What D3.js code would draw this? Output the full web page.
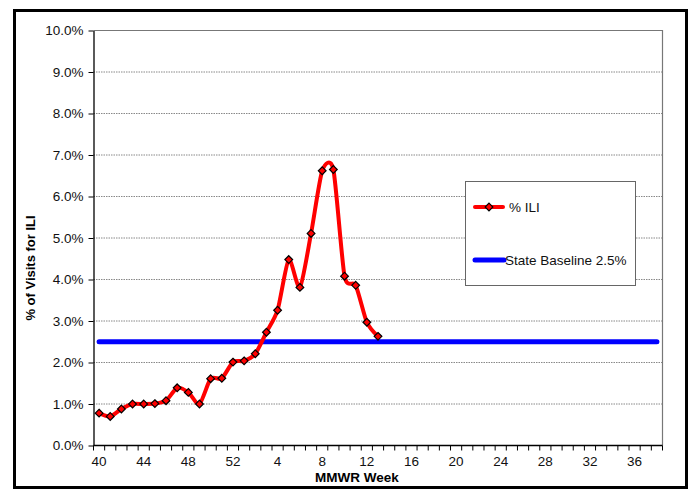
<!DOCTYPE html>
<html>
<head>
<meta charset="utf-8">
<script src="https://cdn.jsdelivr.net/npm/d3@7"></script>
<style>
  body { margin: 0; background: #fff; }
  svg { display: block; }
  text { font-family: "Liberation Sans", Arial, sans-serif; }
</style>
</head>
<body>
<svg width="699" height="496"></svg>
<script>
// MMWR weeks of the season, 40..52 then 1..38
const weeks = [40, 41, 42, 43, 44, 45, 46, 47, 48, 49, 50, 51, 52,
    1, 2, 3, 4, 5, 6, 7, 8, 9, 10, 11, 12, 13, 14, 15, 16, 17, 18, 19, 20,
    21, 22, 23, 24, 25, 26, 27, 28, 29, 30, 31, 32, 33, 34, 35, 36, 37, 38];
const labelWeeks = [40, 44, 48, 52, 4, 8, 12, 16, 20, 24, 28, 32, 36];

// % ILI, weeks 40 .. 13
const iliWeeks = [40, 41, 42, 43, 44, 45, 46, 47, 48, 49, 50, 51, 52,
    1, 2, 3, 4, 5, 6, 7, 8, 9, 10, 11, 12, 13];
const iliValues = [0.78, 0.70, 0.88, 1.00, 1.00, 1.01, 1.08, 1.39, 1.28, 1.00, 1.61, 1.62, 2.01,
    2.04, 2.21, 2.73, 3.26, 4.48, 3.81, 5.11, 6.62, 6.65, 4.08, 3.86, 2.97, 2.63];

const baseline = 2.5;
const yTicks = [0, 1, 2, 3, 4, 5, 6, 7, 8, 9, 10];

const svg = d3.select('svg');
const pLeft = 93.5, pRight = 662.5, pTop = 30.5, pBottom = 445.5;

// outer frame
svg.append('rect')
    .attr('x', 14.5).attr('y', 10.5)
    .attr('width', 672).attr('height', 477)
    .attr('fill', 'none').attr('stroke', '#000').attr('stroke-width', 3);

const x = d3.scaleBand().domain(weeks).range([pLeft, pRight]);
const y = d3.scaleLinear().domain([0, 10]).range([pBottom, pTop]);
const cx = w => x(w) + x.bandwidth() / 2;

// gridlines
svg.append('g').selectAll('line').data(yTicks.filter(t => t > 0 && t < 10))
    .enter().append('line')
    .attr('x1', pLeft).attr('x2', pRight)
    .attr('y1', d => y(d)).attr('y2', d => y(d))
    .attr('stroke', '#888').attr('stroke-width', 1)
    .attr('stroke-dasharray', '1.5,1');

// plot border (top/right gray)
svg.append('path')
    .attr('d', `M${pLeft},${pTop}H${pRight}V${pBottom}`)
    .attr('fill', 'none').attr('stroke', '#777').attr('stroke-width', 1.2);

// y axis
const yAxis = svg.append('g')
    .attr('transform', `translate(${pLeft},0)`)
    .call(d3.axisLeft(y).tickValues(yTicks).tickSize(5).tickSizeOuter(0)
        .tickFormat(d => d.toFixed(1) + '%'));
yAxis.select('.domain').attr('stroke', '#000').attr('stroke-width', 1.3);
yAxis.selectAll('text').attr('font-size', 13.5).attr('fill', '#111').attr('dx', '-2')
    .attr('font-family', '"Liberation Sans", Arial, sans-serif');

// x axis: ticks at band boundaries, labels every 4 weeks
const xAxis = svg.append('g').attr('transform', `translate(0,${pBottom})`);
xAxis.append('line').attr('x1', pLeft).attr('x2', pRight)
    .attr('stroke', '#000').attr('stroke-width', 1.3);
xAxis.selectAll('line.tick').data(weeks.concat(['end']))
    .enter().append('line').attr('class', 'tick')
    .attr('x1', d => d === 'end' ? pRight : x(d))
    .attr('x2', d => d === 'end' ? pRight : x(d))
    .attr('y1', 0).attr('y2', 5)
    .attr('stroke', '#000');
xAxis.selectAll('text').data(labelWeeks)
    .enter().append('text')
    .attr('x', d => cx(d)).attr('y', 20.5)
    .attr('text-anchor', 'middle')
    .attr('font-size', 13.5).attr('fill', '#111')
    .text(d => d);

// axis titles
svg.append('text')
    .attr('transform', 'translate(35,268) rotate(-90)')
    .attr('text-anchor', 'middle')
    .attr('font-size', 13).attr('font-weight', 'bold')
    .text('% of Visits for ILI');
svg.append('text')
    .attr('x', 357).attr('y', 482)
    .attr('text-anchor', 'middle')
    .attr('font-size', 13.5).attr('font-weight', 'bold')
    .text('MMWR Week');

// baseline
svg.append('line')
    .attr('x1', cx(40)).attr('x2', cx(38))
    .attr('y1', y(baseline)).attr('y2', y(baseline))
    .attr('stroke', '#0000ff').attr('stroke-width', 5)
    .attr('stroke-linecap', 'round');

// ILI line
const iliData = iliWeeks.map((w, i) => ({week: w, value: iliValues[i]}));
const line = d3.line()
    .x(d => cx(d.week)).y(d => y(d.value))
    .curve(d3.curveCardinal.tension(0.3));
svg.append('path').datum(iliData)
    .attr('d', line)
    .attr('fill', 'none').attr('stroke', '#ff0000').attr('stroke-width', 4)
    .attr('stroke-linejoin', 'round');

const diamond = d3.symbol().type(d3.symbolDiamond2).size(38);
svg.append('g').selectAll('path').data(iliData)
    .enter().append('path')
    .attr('transform', d => `translate(${cx(d.week)},${y(d.value)})`)
    .attr('d', diamond)
    .attr('fill', '#ff0000').attr('stroke', '#000').attr('stroke-width', 1.2);

// legend
const legend = svg.append('g');
legend.append('rect')
    .attr('x', 465.5).attr('y', 181.5).attr('width', 170).attr('height', 104)
    .attr('fill', '#fff').attr('stroke', '#666').attr('stroke-width', 1);
legend.append('line')
    .attr('x1', 475).attr('x2', 503).attr('y1', 207).attr('y2', 207)
    .attr('stroke', '#ff0000').attr('stroke-width', 4).attr('stroke-linecap', 'round');
legend.append('path')
    .attr('transform', 'translate(489,207)')
    .attr('d', diamond)
    .attr('fill', '#ff0000').attr('stroke', '#000').attr('stroke-width', 1.2);
legend.append('text')
    .attr('x', 509).attr('y', 212)
    .attr('font-size', 13.5).attr('fill', '#111')
    .text('% ILI');
legend.append('line')
    .attr('x1', 475).attr('x2', 504).attr('y1', 260).attr('y2', 260)
    .attr('stroke', '#0000ff').attr('stroke-width', 5).attr('stroke-linecap', 'round');
legend.append('text')
    .attr('x', 505).attr('y', 265)
    .attr('font-size', 13.5).attr('fill', '#111')
    .text('State Baseline 2.5%');
</script>
</body>
</html>
